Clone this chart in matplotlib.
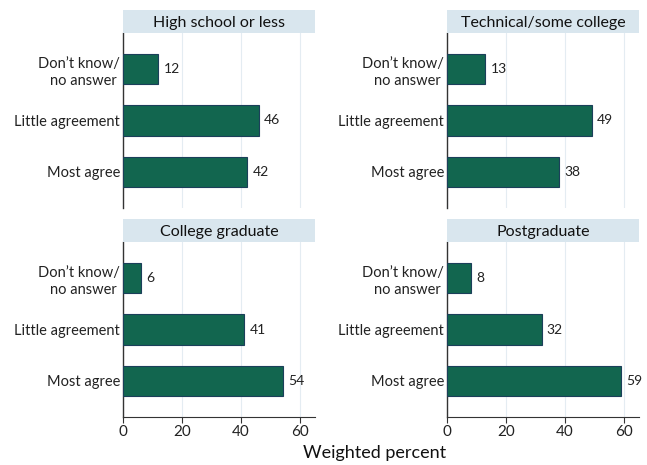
import matplotlib
matplotlib.use("Agg")
import matplotlib.pyplot as plt

plt.rcParams['font.family'] = ['Lato', 'DejaVu Sans']

categories = ["Don\u2019t know/\nno answer ", "Little agreement", "Most agree"]
panels = ["High school or less", "Technical/some college",
          "College graduate", "Postgraduate"]
dont_know = [12, 13, 6, 8]
little = [46, 49, 41, 32]
most = [42, 38, 54, 59]
xticks = [0, 20, 40, 60]

bar_color = "#12664f"
edge_color = "#1b3f5a"
strip_color = "#d9e6ee"
grid_color = "#e4ecf2"

W, H = 647, 465
fig = plt.figure(figsize=(W / 100, H / 100), dpi=100)

# panel boxes in pixels: (left, top)
lefts = [123, 447, 123, 447]
tops = [33, 33, 242, 242]
pw, ph, sh = 192, 175, 23

for i, name in enumerate(panels):
    l, t = lefts[i], tops[i]
    ax = fig.add_axes([l / W, 1 - (t + ph) / H, pw / W, ph / H])
    vals = [dont_know[i], little[i], most[i]]
    ypos = [3, 2, 1]
    ax.barh(ypos, vals, height=0.6, color=bar_color, edgecolor=edge_color,
            linewidth=0.8, zorder=3)
    for y, v in zip(ypos, vals):
        ax.text(v + 1.8, y, str(v), va='center', ha='left', fontsize=10,
                color='#222222')
    ax.set_xlim(0, 65)
    ax.set_ylim(0.3, 3.7)
    ax.set_yticks(ypos)
    ax.set_yticklabels(categories, fontsize=10.5, color='#222222',
                       linespacing=1.35, multialignment='right')
    ax.tick_params(axis='y', length=0, pad=2)
    ax.set_xticks(xticks)
    ax.grid(axis='x', color=grid_color, linewidth=0.8, zorder=0)
    for s in ['top', 'right']:
        ax.spines[s].set_visible(False)
    ax.spines['left'].set_color('#333333')
    ax.spines['left'].set_linewidth(1.0)
    if i < 2:
        ax.spines['bottom'].set_visible(False)
        ax.tick_params(axis='x', length=0, labelbottom=False)
    else:
        ax.spines['bottom'].set_color('#333333')
        ax.tick_params(axis='x', length=4, color='#333333', labelsize=11,
                       labelcolor='#222222', pad=2)

    sax = fig.add_axes([l / W, 1 - (t) / H, pw / W, sh / H])
    sax.set_facecolor(strip_color)
    sax.set_xticks([])
    sax.set_yticks([])
    for s in sax.spines.values():
        s.set_visible(False)
    sax.text(0.5, 0.45, name, ha='center', va='center', fontsize=11.5,
             color='#111111', transform=sax.transAxes)

fig.text(375 / W, 1 - 453 / H, "Weighted percent", ha='center', va='center',
         fontsize=13, color='#111111')

fig.savefig("out.png", dpi=100, facecolor='white')
